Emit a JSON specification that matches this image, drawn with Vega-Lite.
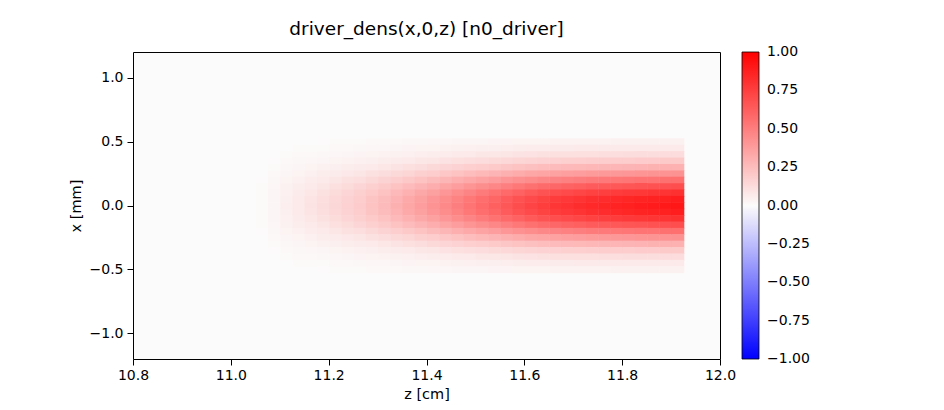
{
"$schema": "https://vega.github.io/schema/vega-lite/v6.json",
"width": 587, "height": 307,
"autosize": {"type": "none"},
"padding": {"left": 133, "top": 52, "right": 224, "bottom": 51},
"background": "white",
"title": {"text": "driver_dens(x,0,z) [n0_driver]", "font": "DejaVu Sans", "fontSize": 18.5, "fontWeight": "normal", "color": "black", "anchor": "middle", "baseline": "alphabetic", "offset": -1.5},
"config": {
  "view": {"stroke": "black", "strokeWidth": 1, "fill": "#fcfbfb"},
  "axis": {"domain": false, "grid": false, "ticks": true, "tickColor": "black", "tickSize": 6, "tickWidth": 1, "labelFont": "DejaVu Sans", "labelFontSize": 14, "labelColor": "black", "labelPadding": 3, "labelFlush": false, "labelOverlap": false, "titleFont": "DejaVu Sans", "titleFontSize": 14.5, "titleFontWeight": "normal", "titleColor": "black"}
},
"data": {"values": [
{"z":11.05,"x":0.175,"v":0.005},{"z":11.05,"x":0.125,"v":0.007},{"z":11.05,"x":0.075,"v":0.008},{"z":11.05,"x":0.025,"v":0.009},{"z":11.05,"x":-0.025,"v":0.009},{"z":11.05,"x":-0.075,"v":0.009},{"z":11.05,"x":-0.125,"v":0.008},{"z":11.05,"x":-0.175,"v":0.007},{"z":11.05,"x":-0.225,"v":0.005},
{"z":11.075,"x":0.325,"v":0.005},{"z":11.075,"x":0.275,"v":0.008},{"z":11.075,"x":0.225,"v":0.011},{"z":11.075,"x":0.175,"v":0.015},{"z":11.075,"x":0.125,"v":0.019},{"z":11.075,"x":0.075,"v":0.022},{"z":11.075,"x":0.025,"v":0.024},{"z":11.075,"x":-0.025,"v":0.025},{"z":11.075,"x":-0.075,"v":0.024},{"z":11.075,"x":-0.125,"v":0.022},{"z":11.075,"x":-0.175,"v":0.019},{"z":11.075,"x":-0.225,"v":0.015},{"z":11.075,"x":-0.275,"v":0.011},{"z":11.075,"x":-0.325,"v":0.008},{"z":11.075,"x":-0.375,"v":0.005},
{"z":11.1,"x":0.375,"v":0.007},{"z":11.1,"x":0.325,"v":0.011},{"z":11.1,"x":0.275,"v":0.016},{"z":11.1,"x":0.225,"v":0.023},{"z":11.1,"x":0.175,"v":0.030},{"z":11.1,"x":0.125,"v":0.038},{"z":11.1,"x":0.075,"v":0.044},{"z":11.1,"x":0.025,"v":0.048},{"z":11.1,"x":-0.025,"v":0.050},{"z":11.1,"x":-0.075,"v":0.048},{"z":11.1,"x":-0.125,"v":0.044},{"z":11.1,"x":-0.175,"v":0.038},{"z":11.1,"x":-0.225,"v":0.030},{"z":11.1,"x":-0.275,"v":0.023},{"z":11.1,"x":-0.325,"v":0.016},{"z":11.1,"x":-0.375,"v":0.011},{"z":11.1,"x":-0.425,"v":0.007},
{"z":11.125,"x":0.425,"v":0.006},{"z":11.125,"x":0.375,"v":0.010},{"z":11.125,"x":0.325,"v":0.016},{"z":11.125,"x":0.275,"v":0.023},{"z":11.125,"x":0.225,"v":0.033},{"z":11.125,"x":0.175,"v":0.044},{"z":11.125,"x":0.125,"v":0.054},{"z":11.125,"x":0.075,"v":0.064},{"z":11.125,"x":0.025,"v":0.070},{"z":11.125,"x":-0.025,"v":0.072},{"z":11.125,"x":-0.075,"v":0.070},{"z":11.125,"x":-0.125,"v":0.064},{"z":11.125,"x":-0.175,"v":0.054},{"z":11.125,"x":-0.225,"v":0.044},{"z":11.125,"x":-0.275,"v":0.033},{"z":11.125,"x":-0.325,"v":0.023},{"z":11.125,"x":-0.375,"v":0.016},{"z":11.125,"x":-0.425,"v":0.010},{"z":11.125,"x":-0.475,"v":0.006},
{"z":11.15,"x":0.425,"v":0.008},{"z":11.15,"x":0.375,"v":0.013},{"z":11.15,"x":0.325,"v":0.021},{"z":11.15,"x":0.275,"v":0.031},{"z":11.15,"x":0.225,"v":0.044},{"z":11.15,"x":0.175,"v":0.058},{"z":11.15,"x":0.125,"v":0.072},{"z":11.15,"x":0.075,"v":0.084},{"z":11.15,"x":0.025,"v":0.092},{"z":11.15,"x":-0.025,"v":0.095},{"z":11.15,"x":-0.075,"v":0.092},{"z":11.15,"x":-0.125,"v":0.084},{"z":11.15,"x":-0.175,"v":0.072},{"z":11.15,"x":-0.225,"v":0.058},{"z":11.15,"x":-0.275,"v":0.044},{"z":11.15,"x":-0.325,"v":0.031},{"z":11.15,"x":-0.375,"v":0.021},{"z":11.15,"x":-0.425,"v":0.013},{"z":11.15,"x":-0.475,"v":0.008},
{"z":11.175,"x":0.475,"v":0.005},{"z":11.175,"x":0.425,"v":0.009},{"z":11.175,"x":0.375,"v":0.016},{"z":11.175,"x":0.325,"v":0.025},{"z":11.175,"x":0.275,"v":0.038},{"z":11.175,"x":0.225,"v":0.054},{"z":11.175,"x":0.175,"v":0.072},{"z":11.175,"x":0.125,"v":0.089},{"z":11.175,"x":0.075,"v":0.104},{"z":11.175,"x":0.025,"v":0.114},{"z":11.175,"x":-0.025,"v":0.118},{"z":11.175,"x":-0.075,"v":0.114},{"z":11.175,"x":-0.125,"v":0.104},{"z":11.175,"x":-0.175,"v":0.089},{"z":11.175,"x":-0.225,"v":0.072},{"z":11.175,"x":-0.275,"v":0.054},{"z":11.175,"x":-0.325,"v":0.038},{"z":11.175,"x":-0.375,"v":0.025},{"z":11.175,"x":-0.425,"v":0.016},{"z":11.175,"x":-0.475,"v":0.009},{"z":11.175,"x":-0.525,"v":0.005},
{"z":11.2,"x":0.475,"v":0.006},{"z":11.2,"x":0.425,"v":0.011},{"z":11.2,"x":0.375,"v":0.019},{"z":11.2,"x":0.325,"v":0.031},{"z":11.2,"x":0.275,"v":0.046},{"z":11.2,"x":0.225,"v":0.065},{"z":11.2,"x":0.175,"v":0.087},{"z":11.2,"x":0.125,"v":0.108},{"z":11.2,"x":0.075,"v":0.126},{"z":11.2,"x":0.025,"v":0.139},{"z":11.2,"x":-0.025,"v":0.143},{"z":11.2,"x":-0.075,"v":0.139},{"z":11.2,"x":-0.125,"v":0.126},{"z":11.2,"x":-0.175,"v":0.108},{"z":11.2,"x":-0.225,"v":0.087},{"z":11.2,"x":-0.275,"v":0.065},{"z":11.2,"x":-0.325,"v":0.046},{"z":11.2,"x":-0.375,"v":0.031},{"z":11.2,"x":-0.425,"v":0.019},{"z":11.2,"x":-0.475,"v":0.011},{"z":11.2,"x":-0.525,"v":0.006},
{"z":11.225,"x":0.475,"v":0.007},{"z":11.225,"x":0.425,"v":0.013},{"z":11.225,"x":0.375,"v":0.023},{"z":11.225,"x":0.325,"v":0.036},{"z":11.225,"x":0.275,"v":0.055},{"z":11.225,"x":0.225,"v":0.077},{"z":11.225,"x":0.175,"v":0.102},{"z":11.225,"x":0.125,"v":0.127},{"z":11.225,"x":0.075,"v":0.148},{"z":11.225,"x":0.025,"v":0.163},{"z":11.225,"x":-0.025,"v":0.168},{"z":11.225,"x":-0.075,"v":0.163},{"z":11.225,"x":-0.125,"v":0.148},{"z":11.225,"x":-0.175,"v":0.127},{"z":11.225,"x":-0.225,"v":0.102},{"z":11.225,"x":-0.275,"v":0.077},{"z":11.225,"x":-0.325,"v":0.055},{"z":11.225,"x":-0.375,"v":0.036},{"z":11.225,"x":-0.425,"v":0.023},{"z":11.225,"x":-0.475,"v":0.013},{"z":11.225,"x":-0.525,"v":0.007},
{"z":11.25,"x":0.475,"v":0.008},{"z":11.25,"x":0.425,"v":0.015},{"z":11.25,"x":0.375,"v":0.026},{"z":11.25,"x":0.325,"v":0.042},{"z":11.25,"x":0.275,"v":0.063},{"z":11.25,"x":0.225,"v":0.088},{"z":11.25,"x":0.175,"v":0.117},{"z":11.25,"x":0.125,"v":0.146},{"z":11.25,"x":0.075,"v":0.170},{"z":11.25,"x":0.025,"v":0.187},{"z":11.25,"x":-0.025,"v":0.193},{"z":11.25,"x":-0.075,"v":0.187},{"z":11.25,"x":-0.125,"v":0.170},{"z":11.25,"x":-0.175,"v":0.146},{"z":11.25,"x":-0.225,"v":0.117},{"z":11.25,"x":-0.275,"v":0.088},{"z":11.25,"x":-0.325,"v":0.063},{"z":11.25,"x":-0.375,"v":0.042},{"z":11.25,"x":-0.425,"v":0.026},{"z":11.25,"x":-0.475,"v":0.015},{"z":11.25,"x":-0.525,"v":0.008},
{"z":11.275,"x":0.475,"v":0.010},{"z":11.275,"x":0.425,"v":0.018},{"z":11.275,"x":0.375,"v":0.030},{"z":11.275,"x":0.325,"v":0.049},{"z":11.275,"x":0.275,"v":0.073},{"z":11.275,"x":0.225,"v":0.103},{"z":11.275,"x":0.175,"v":0.137},{"z":11.275,"x":0.125,"v":0.170},{"z":11.275,"x":0.075,"v":0.198},{"z":11.275,"x":0.025,"v":0.218},{"z":11.275,"x":-0.025,"v":0.225},{"z":11.275,"x":-0.075,"v":0.218},{"z":11.275,"x":-0.125,"v":0.198},{"z":11.275,"x":-0.175,"v":0.170},{"z":11.275,"x":-0.225,"v":0.137},{"z":11.275,"x":-0.275,"v":0.103},{"z":11.275,"x":-0.325,"v":0.073},{"z":11.275,"x":-0.375,"v":0.049},{"z":11.275,"x":-0.425,"v":0.030},{"z":11.275,"x":-0.475,"v":0.018},{"z":11.275,"x":-0.525,"v":0.010},
{"z":11.3,"x":0.475,"v":0.011},{"z":11.3,"x":0.425,"v":0.021},{"z":11.3,"x":0.375,"v":0.035},{"z":11.3,"x":0.325,"v":0.056},{"z":11.3,"x":0.275,"v":0.085},{"z":11.3,"x":0.225,"v":0.119},{"z":11.3,"x":0.175,"v":0.158},{"z":11.3,"x":0.125,"v":0.196},{"z":11.3,"x":0.075,"v":0.229},{"z":11.3,"x":0.025,"v":0.252},{"z":11.3,"x":-0.025,"v":0.260},{"z":11.3,"x":-0.075,"v":0.252},{"z":11.3,"x":-0.125,"v":0.229},{"z":11.3,"x":-0.175,"v":0.196},{"z":11.3,"x":-0.225,"v":0.158},{"z":11.3,"x":-0.275,"v":0.119},{"z":11.3,"x":-0.325,"v":0.085},{"z":11.3,"x":-0.375,"v":0.056},{"z":11.3,"x":-0.425,"v":0.035},{"z":11.3,"x":-0.475,"v":0.021},{"z":11.3,"x":-0.525,"v":0.011},
{"z":11.325,"x":0.475,"v":0.013},{"z":11.325,"x":0.425,"v":0.024},{"z":11.325,"x":0.375,"v":0.040},{"z":11.325,"x":0.325,"v":0.064},{"z":11.325,"x":0.275,"v":0.097},{"z":11.325,"x":0.225,"v":0.136},{"z":11.325,"x":0.175,"v":0.180},{"z":11.325,"x":0.125,"v":0.224},{"z":11.325,"x":0.075,"v":0.262},{"z":11.325,"x":0.025,"v":0.288},{"z":11.325,"x":-0.025,"v":0.297},{"z":11.325,"x":-0.075,"v":0.288},{"z":11.325,"x":-0.125,"v":0.262},{"z":11.325,"x":-0.175,"v":0.224},{"z":11.325,"x":-0.225,"v":0.180},{"z":11.325,"x":-0.275,"v":0.136},{"z":11.325,"x":-0.325,"v":0.097},{"z":11.325,"x":-0.375,"v":0.064},{"z":11.325,"x":-0.425,"v":0.040},{"z":11.325,"x":-0.475,"v":0.024},{"z":11.325,"x":-0.525,"v":0.013},
{"z":11.35,"x":0.475,"v":0.015},{"z":11.35,"x":0.425,"v":0.027},{"z":11.35,"x":0.375,"v":0.045},{"z":11.35,"x":0.325,"v":0.072},{"z":11.35,"x":0.275,"v":0.109},{"z":11.35,"x":0.225,"v":0.153},{"z":11.35,"x":0.175,"v":0.203},{"z":11.35,"x":0.125,"v":0.253},{"z":11.35,"x":0.075,"v":0.295},{"z":11.35,"x":0.025,"v":0.325},{"z":11.35,"x":-0.025,"v":0.335},{"z":11.35,"x":-0.075,"v":0.325},{"z":11.35,"x":-0.125,"v":0.295},{"z":11.35,"x":-0.175,"v":0.253},{"z":11.35,"x":-0.225,"v":0.203},{"z":11.35,"x":-0.275,"v":0.153},{"z":11.35,"x":-0.325,"v":0.109},{"z":11.35,"x":-0.375,"v":0.072},{"z":11.35,"x":-0.425,"v":0.045},{"z":11.35,"x":-0.475,"v":0.027},{"z":11.35,"x":-0.525,"v":0.015},
{"z":11.375,"x":0.475,"v":0.016},{"z":11.375,"x":0.425,"v":0.030},{"z":11.375,"x":0.375,"v":0.050},{"z":11.375,"x":0.325,"v":0.081},{"z":11.375,"x":0.275,"v":0.121},{"z":11.375,"x":0.225,"v":0.171},{"z":11.375,"x":0.175,"v":0.226},{"z":11.375,"x":0.125,"v":0.282},{"z":11.375,"x":0.075,"v":0.329},{"z":11.375,"x":0.025,"v":0.361},{"z":11.375,"x":-0.025,"v":0.373},{"z":11.375,"x":-0.075,"v":0.361},{"z":11.375,"x":-0.125,"v":0.329},{"z":11.375,"x":-0.175,"v":0.282},{"z":11.375,"x":-0.225,"v":0.226},{"z":11.375,"x":-0.275,"v":0.171},{"z":11.375,"x":-0.325,"v":0.121},{"z":11.375,"x":-0.375,"v":0.081},{"z":11.375,"x":-0.425,"v":0.050},{"z":11.375,"x":-0.475,"v":0.030},{"z":11.375,"x":-0.525,"v":0.016},
{"z":11.4,"x":0.475,"v":0.018},{"z":11.4,"x":0.425,"v":0.033},{"z":11.4,"x":0.375,"v":0.056},{"z":11.4,"x":0.325,"v":0.089},{"z":11.4,"x":0.275,"v":0.134},{"z":11.4,"x":0.225,"v":0.189},{"z":11.4,"x":0.175,"v":0.251},{"z":11.4,"x":0.125,"v":0.312},{"z":11.4,"x":0.075,"v":0.364},{"z":11.4,"x":0.025,"v":0.400},{"z":11.4,"x":-0.025,"v":0.413},{"z":11.4,"x":-0.075,"v":0.400},{"z":11.4,"x":-0.125,"v":0.364},{"z":11.4,"x":-0.175,"v":0.312},{"z":11.4,"x":-0.225,"v":0.251},{"z":11.4,"x":-0.275,"v":0.189},{"z":11.4,"x":-0.325,"v":0.134},{"z":11.4,"x":-0.375,"v":0.089},{"z":11.4,"x":-0.425,"v":0.056},{"z":11.4,"x":-0.475,"v":0.033},{"z":11.4,"x":-0.525,"v":0.018},
{"z":11.425,"x":0.475,"v":0.020},{"z":11.425,"x":0.425,"v":0.036},{"z":11.425,"x":0.375,"v":0.061},{"z":11.425,"x":0.325,"v":0.098},{"z":11.425,"x":0.275,"v":0.148},{"z":11.425,"x":0.225,"v":0.208},{"z":11.425,"x":0.175,"v":0.276},{"z":11.425,"x":0.125,"v":0.344},{"z":11.425,"x":0.075,"v":0.401},{"z":11.425,"x":0.025,"v":0.441},{"z":11.425,"x":-0.025,"v":0.455},{"z":11.425,"x":-0.075,"v":0.441},{"z":11.425,"x":-0.125,"v":0.401},{"z":11.425,"x":-0.175,"v":0.344},{"z":11.425,"x":-0.225,"v":0.276},{"z":11.425,"x":-0.275,"v":0.208},{"z":11.425,"x":-0.325,"v":0.148},{"z":11.425,"x":-0.375,"v":0.098},{"z":11.425,"x":-0.425,"v":0.061},{"z":11.425,"x":-0.475,"v":0.036},{"z":11.425,"x":-0.525,"v":0.020},
{"z":11.45,"x":0.475,"v":0.022},{"z":11.45,"x":0.425,"v":0.040},{"z":11.45,"x":0.375,"v":0.067},{"z":11.45,"x":0.325,"v":0.107},{"z":11.45,"x":0.275,"v":0.162},{"z":11.45,"x":0.225,"v":0.228},{"z":11.45,"x":0.175,"v":0.302},{"z":11.45,"x":0.125,"v":0.375},{"z":11.45,"x":0.075,"v":0.438},{"z":11.45,"x":0.025,"v":0.482},{"z":11.45,"x":-0.025,"v":0.497},{"z":11.45,"x":-0.075,"v":0.482},{"z":11.45,"x":-0.125,"v":0.438},{"z":11.45,"x":-0.175,"v":0.375},{"z":11.45,"x":-0.225,"v":0.302},{"z":11.45,"x":-0.275,"v":0.228},{"z":11.45,"x":-0.325,"v":0.162},{"z":11.45,"x":-0.375,"v":0.107},{"z":11.45,"x":-0.425,"v":0.067},{"z":11.45,"x":-0.475,"v":0.040},{"z":11.45,"x":-0.525,"v":0.022},
{"z":11.475,"x":0.475,"v":0.024},{"z":11.475,"x":0.425,"v":0.043},{"z":11.475,"x":0.375,"v":0.073},{"z":11.475,"x":0.325,"v":0.116},{"z":11.475,"x":0.275,"v":0.175},{"z":11.475,"x":0.225,"v":0.246},{"z":11.475,"x":0.175,"v":0.327},{"z":11.475,"x":0.125,"v":0.406},{"z":11.475,"x":0.075,"v":0.475},{"z":11.475,"x":0.025,"v":0.521},{"z":11.475,"x":-0.025,"v":0.538},{"z":11.475,"x":-0.075,"v":0.521},{"z":11.475,"x":-0.125,"v":0.475},{"z":11.475,"x":-0.175,"v":0.406},{"z":11.475,"x":-0.225,"v":0.327},{"z":11.475,"x":-0.275,"v":0.246},{"z":11.475,"x":-0.325,"v":0.175},{"z":11.475,"x":-0.375,"v":0.116},{"z":11.475,"x":-0.425,"v":0.073},{"z":11.475,"x":-0.475,"v":0.043},{"z":11.475,"x":-0.525,"v":0.024},
{"z":11.5,"x":0.475,"v":0.025},{"z":11.5,"x":0.425,"v":0.046},{"z":11.5,"x":0.375,"v":0.078},{"z":11.5,"x":0.325,"v":0.125},{"z":11.5,"x":0.275,"v":0.188},{"z":11.5,"x":0.225,"v":0.265},{"z":11.5,"x":0.175,"v":0.351},{"z":11.5,"x":0.125,"v":0.436},{"z":11.5,"x":0.075,"v":0.510},{"z":11.5,"x":0.025,"v":0.560},{"z":11.5,"x":-0.025,"v":0.578},{"z":11.5,"x":-0.075,"v":0.560},{"z":11.5,"x":-0.125,"v":0.510},{"z":11.5,"x":-0.175,"v":0.436},{"z":11.5,"x":-0.225,"v":0.351},{"z":11.5,"x":-0.275,"v":0.265},{"z":11.5,"x":-0.325,"v":0.188},{"z":11.5,"x":-0.375,"v":0.125},{"z":11.5,"x":-0.425,"v":0.078},{"z":11.5,"x":-0.475,"v":0.046},{"z":11.5,"x":-0.525,"v":0.025},
{"z":11.525,"x":0.475,"v":0.027},{"z":11.525,"x":0.425,"v":0.049},{"z":11.525,"x":0.375,"v":0.083},{"z":11.525,"x":0.325,"v":0.133},{"z":11.525,"x":0.275,"v":0.201},{"z":11.525,"x":0.225,"v":0.283},{"z":11.525,"x":0.175,"v":0.375},{"z":11.525,"x":0.125,"v":0.467},{"z":11.525,"x":0.075,"v":0.545},{"z":11.525,"x":0.025,"v":0.599},{"z":11.525,"x":-0.025,"v":0.618},{"z":11.525,"x":-0.075,"v":0.599},{"z":11.525,"x":-0.125,"v":0.545},{"z":11.525,"x":-0.175,"v":0.467},{"z":11.525,"x":-0.225,"v":0.375},{"z":11.525,"x":-0.275,"v":0.283},{"z":11.525,"x":-0.325,"v":0.201},{"z":11.525,"x":-0.375,"v":0.133},{"z":11.525,"x":-0.425,"v":0.083},{"z":11.525,"x":-0.475,"v":0.049},{"z":11.525,"x":-0.525,"v":0.027},
{"z":11.55,"x":0.475,"v":0.029},{"z":11.55,"x":0.425,"v":0.052},{"z":11.55,"x":0.375,"v":0.088},{"z":11.55,"x":0.325,"v":0.141},{"z":11.55,"x":0.275,"v":0.213},{"z":11.55,"x":0.225,"v":0.300},{"z":11.55,"x":0.175,"v":0.398},{"z":11.55,"x":0.125,"v":0.495},{"z":11.55,"x":0.075,"v":0.578},{"z":11.55,"x":0.025,"v":0.635},{"z":11.55,"x":-0.025,"v":0.655},{"z":11.55,"x":-0.075,"v":0.635},{"z":11.55,"x":-0.125,"v":0.578},{"z":11.55,"x":-0.175,"v":0.495},{"z":11.55,"x":-0.225,"v":0.398},{"z":11.55,"x":-0.275,"v":0.300},{"z":11.55,"x":-0.325,"v":0.213},{"z":11.55,"x":-0.375,"v":0.141},{"z":11.55,"x":-0.425,"v":0.088},{"z":11.55,"x":-0.475,"v":0.052},{"z":11.55,"x":-0.525,"v":0.029},
{"z":11.575,"x":0.475,"v":0.030},{"z":11.575,"x":0.425,"v":0.055},{"z":11.575,"x":0.375,"v":0.094},{"z":11.575,"x":0.325,"v":0.150},{"z":11.575,"x":0.275,"v":0.225},{"z":11.575,"x":0.225,"v":0.317},{"z":11.575,"x":0.175,"v":0.421},{"z":11.575,"x":0.125,"v":0.523},{"z":11.575,"x":0.075,"v":0.611},{"z":11.575,"x":0.025,"v":0.672},{"z":11.575,"x":-0.025,"v":0.693},{"z":11.575,"x":-0.075,"v":0.672},{"z":11.575,"x":-0.125,"v":0.611},{"z":11.575,"x":-0.175,"v":0.523},{"z":11.575,"x":-0.225,"v":0.421},{"z":11.575,"x":-0.275,"v":0.317},{"z":11.575,"x":-0.325,"v":0.225},{"z":11.575,"x":-0.375,"v":0.150},{"z":11.575,"x":-0.425,"v":0.094},{"z":11.575,"x":-0.475,"v":0.055},{"z":11.575,"x":-0.525,"v":0.030},
{"z":11.6,"x":0.475,"v":0.032},{"z":11.6,"x":0.425,"v":0.058},{"z":11.6,"x":0.375,"v":0.098},{"z":11.6,"x":0.325,"v":0.157},{"z":11.6,"x":0.275,"v":0.237},{"z":11.6,"x":0.225,"v":0.333},{"z":11.6,"x":0.175,"v":0.442},{"z":11.6,"x":0.125,"v":0.550},{"z":11.6,"x":0.075,"v":0.642},{"z":11.6,"x":0.025,"v":0.705},{"z":11.6,"x":-0.025,"v":0.728},{"z":11.6,"x":-0.075,"v":0.705},{"z":11.6,"x":-0.125,"v":0.642},{"z":11.6,"x":-0.175,"v":0.550},{"z":11.6,"x":-0.225,"v":0.442},{"z":11.6,"x":-0.275,"v":0.333},{"z":11.6,"x":-0.325,"v":0.237},{"z":11.6,"x":-0.375,"v":0.157},{"z":11.6,"x":-0.425,"v":0.098},{"z":11.6,"x":-0.475,"v":0.058},{"z":11.6,"x":-0.525,"v":0.032},
{"z":11.625,"x":0.475,"v":0.033},{"z":11.625,"x":0.425,"v":0.061},{"z":11.625,"x":0.375,"v":0.102},{"z":11.625,"x":0.325,"v":0.164},{"z":11.625,"x":0.275,"v":0.246},{"z":11.625,"x":0.225,"v":0.347},{"z":11.625,"x":0.175,"v":0.460},{"z":11.625,"x":0.125,"v":0.572},{"z":11.625,"x":0.075,"v":0.669},{"z":11.625,"x":0.025,"v":0.735},{"z":11.625,"x":-0.025,"v":0.758},{"z":11.625,"x":-0.075,"v":0.735},{"z":11.625,"x":-0.125,"v":0.669},{"z":11.625,"x":-0.175,"v":0.572},{"z":11.625,"x":-0.225,"v":0.460},{"z":11.625,"x":-0.275,"v":0.347},{"z":11.625,"x":-0.325,"v":0.246},{"z":11.625,"x":-0.375,"v":0.164},{"z":11.625,"x":-0.425,"v":0.102},{"z":11.625,"x":-0.475,"v":0.061},{"z":11.625,"x":-0.525,"v":0.033},
{"z":11.65,"x":0.475,"v":0.034},{"z":11.65,"x":0.425,"v":0.063},{"z":11.65,"x":0.375,"v":0.106},{"z":11.65,"x":0.325,"v":0.169},{"z":11.65,"x":0.275,"v":0.254},{"z":11.65,"x":0.225,"v":0.359},{"z":11.65,"x":0.175,"v":0.475},{"z":11.65,"x":0.125,"v":0.591},{"z":11.65,"x":0.075,"v":0.691},{"z":11.65,"x":0.025,"v":0.759},{"z":11.65,"x":-0.025,"v":0.783},{"z":11.65,"x":-0.075,"v":0.759},{"z":11.65,"x":-0.125,"v":0.691},{"z":11.65,"x":-0.175,"v":0.591},{"z":11.65,"x":-0.225,"v":0.475},{"z":11.65,"x":-0.275,"v":0.359},{"z":11.65,"x":-0.325,"v":0.254},{"z":11.65,"x":-0.375,"v":0.169},{"z":11.65,"x":-0.425,"v":0.106},{"z":11.65,"x":-0.475,"v":0.063},{"z":11.65,"x":-0.525,"v":0.034},
{"z":11.675,"x":0.475,"v":0.035},{"z":11.675,"x":0.425,"v":0.064},{"z":11.675,"x":0.375,"v":0.108},{"z":11.675,"x":0.325,"v":0.173},{"z":11.675,"x":0.275,"v":0.261},{"z":11.675,"x":0.225,"v":0.367},{"z":11.675,"x":0.175,"v":0.487},{"z":11.675,"x":0.125,"v":0.606},{"z":11.675,"x":0.075,"v":0.707},{"z":11.675,"x":0.025,"v":0.777},{"z":11.675,"x":-0.025,"v":0.802},{"z":11.675,"x":-0.075,"v":0.777},{"z":11.675,"x":-0.125,"v":0.707},{"z":11.675,"x":-0.175,"v":0.606},{"z":11.675,"x":-0.225,"v":0.487},{"z":11.675,"x":-0.275,"v":0.367},{"z":11.675,"x":-0.325,"v":0.261},{"z":11.675,"x":-0.375,"v":0.173},{"z":11.675,"x":-0.425,"v":0.108},{"z":11.675,"x":-0.475,"v":0.064},{"z":11.675,"x":-0.525,"v":0.035},
{"z":11.7,"x":0.475,"v":0.036},{"z":11.7,"x":0.425,"v":0.066},{"z":11.7,"x":0.375,"v":0.111},{"z":11.7,"x":0.325,"v":0.177},{"z":11.7,"x":0.275,"v":0.267},{"z":11.7,"x":0.225,"v":0.376},{"z":11.7,"x":0.175,"v":0.498},{"z":11.7,"x":0.125,"v":0.619},{"z":11.7,"x":0.075,"v":0.723},{"z":11.7,"x":0.025,"v":0.795},{"z":11.7,"x":-0.025,"v":0.820},{"z":11.7,"x":-0.075,"v":0.795},{"z":11.7,"x":-0.125,"v":0.723},{"z":11.7,"x":-0.175,"v":0.619},{"z":11.7,"x":-0.225,"v":0.498},{"z":11.7,"x":-0.275,"v":0.376},{"z":11.7,"x":-0.325,"v":0.267},{"z":11.7,"x":-0.375,"v":0.177},{"z":11.7,"x":-0.425,"v":0.111},{"z":11.7,"x":-0.475,"v":0.066},{"z":11.7,"x":-0.525,"v":0.036},
{"z":11.725,"x":0.475,"v":0.037},{"z":11.725,"x":0.425,"v":0.067},{"z":11.725,"x":0.375,"v":0.113},{"z":11.725,"x":0.325,"v":0.181},{"z":11.725,"x":0.275,"v":0.272},{"z":11.725,"x":0.225,"v":0.384},{"z":11.725,"x":0.175,"v":0.509},{"z":11.725,"x":0.125,"v":0.633},{"z":11.725,"x":0.075,"v":0.739},{"z":11.725,"x":0.025,"v":0.812},{"z":11.725,"x":-0.025,"v":0.838},{"z":11.725,"x":-0.075,"v":0.812},{"z":11.725,"x":-0.125,"v":0.739},{"z":11.725,"x":-0.175,"v":0.633},{"z":11.725,"x":-0.225,"v":0.509},{"z":11.725,"x":-0.275,"v":0.384},{"z":11.725,"x":-0.325,"v":0.272},{"z":11.725,"x":-0.375,"v":0.181},{"z":11.725,"x":-0.425,"v":0.113},{"z":11.725,"x":-0.475,"v":0.067},{"z":11.725,"x":-0.525,"v":0.037},
{"z":11.75,"x":0.475,"v":0.037},{"z":11.75,"x":0.425,"v":0.068},{"z":11.75,"x":0.375,"v":0.115},{"z":11.75,"x":0.325,"v":0.184},{"z":11.75,"x":0.275,"v":0.276},{"z":11.75,"x":0.225,"v":0.389},{"z":11.75,"x":0.175,"v":0.516},{"z":11.75,"x":0.125,"v":0.642},{"z":11.75,"x":0.075,"v":0.750},{"z":11.75,"x":0.025,"v":0.824},{"z":11.75,"x":-0.025,"v":0.850},{"z":11.75,"x":-0.075,"v":0.824},{"z":11.75,"x":-0.125,"v":0.750},{"z":11.75,"x":-0.175,"v":0.642},{"z":11.75,"x":-0.225,"v":0.516},{"z":11.75,"x":-0.275,"v":0.389},{"z":11.75,"x":-0.325,"v":0.276},{"z":11.75,"x":-0.375,"v":0.184},{"z":11.75,"x":-0.425,"v":0.115},{"z":11.75,"x":-0.475,"v":0.068},{"z":11.75,"x":-0.525,"v":0.037},
{"z":11.775,"x":0.475,"v":0.038},{"z":11.775,"x":0.425,"v":0.069},{"z":11.775,"x":0.375,"v":0.116},{"z":11.775,"x":0.325,"v":0.186},{"z":11.775,"x":0.275,"v":0.280},{"z":11.775,"x":0.225,"v":0.395},{"z":11.775,"x":0.175,"v":0.523},{"z":11.775,"x":0.125,"v":0.651},{"z":11.775,"x":0.075,"v":0.760},{"z":11.775,"x":0.025,"v":0.835},{"z":11.775,"x":-0.025,"v":0.862},{"z":11.775,"x":-0.075,"v":0.835},{"z":11.775,"x":-0.125,"v":0.760},{"z":11.775,"x":-0.175,"v":0.651},{"z":11.775,"x":-0.225,"v":0.523},{"z":11.775,"x":-0.275,"v":0.395},{"z":11.775,"x":-0.325,"v":0.280},{"z":11.775,"x":-0.375,"v":0.186},{"z":11.775,"x":-0.425,"v":0.116},{"z":11.775,"x":-0.475,"v":0.069},{"z":11.775,"x":-0.525,"v":0.038},
{"z":11.8,"x":0.475,"v":0.038},{"z":11.8,"x":0.425,"v":0.070},{"z":11.8,"x":0.375,"v":0.118},{"z":11.8,"x":0.325,"v":0.189},{"z":11.8,"x":0.275,"v":0.284},{"z":11.8,"x":0.225,"v":0.400},{"z":11.8,"x":0.175,"v":0.531},{"z":11.8,"x":0.125,"v":0.660},{"z":11.8,"x":0.075,"v":0.771},{"z":11.8,"x":0.025,"v":0.847},{"z":11.8,"x":-0.025,"v":0.874},{"z":11.8,"x":-0.075,"v":0.847},{"z":11.8,"x":-0.125,"v":0.771},{"z":11.8,"x":-0.175,"v":0.660},{"z":11.8,"x":-0.225,"v":0.531},{"z":11.8,"x":-0.275,"v":0.400},{"z":11.8,"x":-0.325,"v":0.284},{"z":11.8,"x":-0.375,"v":0.189},{"z":11.8,"x":-0.425,"v":0.118},{"z":11.8,"x":-0.475,"v":0.070},{"z":11.8,"x":-0.525,"v":0.038},
{"z":11.825,"x":0.475,"v":0.039},{"z":11.825,"x":0.425,"v":0.071},{"z":11.825,"x":0.375,"v":0.119},{"z":11.825,"x":0.325,"v":0.191},{"z":11.825,"x":0.275,"v":0.287},{"z":11.825,"x":0.225,"v":0.405},{"z":11.825,"x":0.175,"v":0.537},{"z":11.825,"x":0.125,"v":0.667},{"z":11.825,"x":0.075,"v":0.780},{"z":11.825,"x":0.025,"v":0.857},{"z":11.825,"x":-0.025,"v":0.884},{"z":11.825,"x":-0.075,"v":0.857},{"z":11.825,"x":-0.125,"v":0.780},{"z":11.825,"x":-0.175,"v":0.667},{"z":11.825,"x":-0.225,"v":0.537},{"z":11.825,"x":-0.275,"v":0.405},{"z":11.825,"x":-0.325,"v":0.287},{"z":11.825,"x":-0.375,"v":0.191},{"z":11.825,"x":-0.425,"v":0.119},{"z":11.825,"x":-0.475,"v":0.071},{"z":11.825,"x":-0.525,"v":0.039},
{"z":11.85,"x":0.475,"v":0.039},{"z":11.85,"x":0.425,"v":0.071},{"z":11.85,"x":0.375,"v":0.121},{"z":11.85,"x":0.325,"v":0.193},{"z":11.85,"x":0.275,"v":0.290},{"z":11.85,"x":0.225,"v":0.409},{"z":11.85,"x":0.175,"v":0.542},{"z":11.85,"x":0.125,"v":0.674},{"z":11.85,"x":0.075,"v":0.788},{"z":11.85,"x":0.025,"v":0.865},{"z":11.85,"x":-0.025,"v":0.893},{"z":11.85,"x":-0.075,"v":0.865},{"z":11.85,"x":-0.125,"v":0.788},{"z":11.85,"x":-0.175,"v":0.674},{"z":11.85,"x":-0.225,"v":0.542},{"z":11.85,"x":-0.275,"v":0.409},{"z":11.85,"x":-0.325,"v":0.290},{"z":11.85,"x":-0.375,"v":0.193},{"z":11.85,"x":-0.425,"v":0.121},{"z":11.85,"x":-0.475,"v":0.071},{"z":11.85,"x":-0.525,"v":0.039},
{"z":11.875,"x":0.475,"v":0.040},{"z":11.875,"x":0.425,"v":0.072},{"z":11.875,"x":0.375,"v":0.122},{"z":11.875,"x":0.325,"v":0.195},{"z":11.875,"x":0.275,"v":0.293},{"z":11.875,"x":0.225,"v":0.413},{"z":11.875,"x":0.175,"v":0.548},{"z":11.875,"x":0.125,"v":0.681},{"z":11.875,"x":0.075,"v":0.796},{"z":11.875,"x":0.025,"v":0.874},{"z":11.875,"x":-0.025,"v":0.902},{"z":11.875,"x":-0.075,"v":0.874},{"z":11.875,"x":-0.125,"v":0.796},{"z":11.875,"x":-0.175,"v":0.681},{"z":11.875,"x":-0.225,"v":0.548},{"z":11.875,"x":-0.275,"v":0.413},{"z":11.875,"x":-0.325,"v":0.293},{"z":11.875,"x":-0.375,"v":0.195},{"z":11.875,"x":-0.425,"v":0.122},{"z":11.875,"x":-0.475,"v":0.072},{"z":11.875,"x":-0.525,"v":0.040},
{"z":11.9,"x":0.475,"v":0.040},{"z":11.9,"x":0.425,"v":0.073},{"z":11.9,"x":0.375,"v":0.123},{"z":11.9,"x":0.325,"v":0.197},{"z":11.9,"x":0.275,"v":0.296},{"z":11.9,"x":0.225,"v":0.418},{"z":11.9,"x":0.175,"v":0.554},{"z":11.9,"x":0.125,"v":0.689},{"z":11.9,"x":0.075,"v":0.804},{"z":11.9,"x":0.025,"v":0.884},{"z":11.9,"x":-0.025,"v":0.912},{"z":11.9,"x":-0.075,"v":0.884},{"z":11.9,"x":-0.125,"v":0.804},{"z":11.9,"x":-0.175,"v":0.689},{"z":11.9,"x":-0.225,"v":0.554},{"z":11.9,"x":-0.275,"v":0.418},{"z":11.9,"x":-0.325,"v":0.296},{"z":11.9,"x":-0.375,"v":0.197},{"z":11.9,"x":-0.425,"v":0.123},{"z":11.9,"x":-0.475,"v":0.073},{"z":11.9,"x":-0.525,"v":0.040}
]},
"mark": {"type": "rect", "binSpacing": 0},
"encoding": {
  "x": {"field": "z", "type": "quantitative", "bin": {"binned": true, "step": 0.026}, "scale": {"domain": [10.8, 12.0], "nice": false, "zero": false}, "axis": {"title": "z [cm]", "values": [10.8, 11.0, 11.2, 11.4, 11.6, 11.8, 12.0], "format": ".1f", "titlePadding": 5}},
  "y": {"field": "x", "type": "quantitative", "bin": {"binned": true, "step": 0.054}, "scale": {"domain": [-1.2, 1.2], "nice": false, "zero": false}, "axis": {"title": "x [mm]", "values": [-1, -0.5, 0, 0.5, 1], "format": ".1f", "titlePadding": 6, "labelPadding": 4}},
  "color": {"field": "v", "type": "quantitative", "scale": {"domain": [-1, 0, 1], "range": ["#0000ff", "#fcfbfb", "#ff0000"], "interpolate": "rgb", "clamp": true},
    "legend": {"type": "gradient", "title": null, "orient": "right", "offset": 22, "direction": "vertical", "gradientLength": 307, "gradientThickness": 17, "gradientStrokeColor": "black", "gradientStrokeWidth": 0.8, "values": [-1, -0.75, -0.5, -0.25, 0, 0.25, 0.5, 0.75, 1], "format": ".2f", "labelFont": "DejaVu Sans", "labelFontSize": 14, "labelColor": "black", "labelBaseline": "middle", "labelOverlap": false, "labelOffset": 8, "padding": 0,
      "encode": {"labels": {"update": {"baseline": {"value": "middle"}}}}}}
}
}
